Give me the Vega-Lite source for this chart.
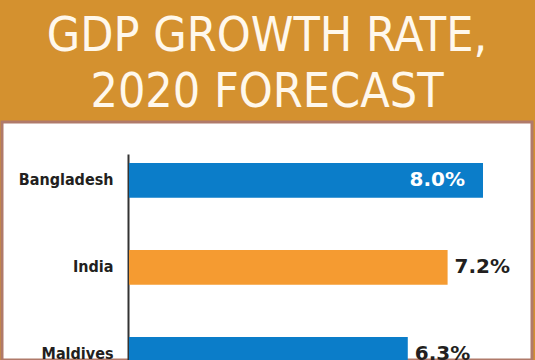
{
  "$schema": "https://vega.github.io/schema/vega-lite/v6.json",
  "autosize": {"type": "none"},
  "width": 530,
  "height": 238,
  "padding": {"left": 2, "top": 122, "right": 3, "bottom": 0},
  "background": "#D4912F",
  "title": {
    "text": ["GDP GROWTH RATE,", "2020 FORECAST"],
    "font": "DejaVu Sans Condensed, Roboto, sans-serif",
    "fontSize": 48,
    "fontWeight": "normal",
    "color": "#FFF8EC",
    "lineHeight": 56,
    "anchor": "middle",
    "frame": "group",
    "offset": 5
  },
  "config": {
    "view": {"fill": "white", "stroke": "#B07A6A", "strokeWidth": 3}
  },
  "data": {
    "values": [
      {"country": "Bangladesh", "growth": 8.0, "label": "8.0%"},
      {"country": "India", "growth": 7.2, "label": "7.2%"},
      {"country": "Maldives", "growth": 6.3, "label": "6.3%"}
    ]
  },
  "encoding": {
    "y": {
      "field": "country",
      "type": "nominal",
      "sort": null,
      "scale": {"range": [32, 258.8], "paddingInner": 0.6, "paddingOuter": 0.103},
      "axis": {
        "title": null,
        "offset": -126,
        "ticks": false,
        "domainColor": "#333333",
        "domainWidth": 2,
        "labelFont": "DejaVu Sans Condensed, Roboto, sans-serif",
        "labelFontWeight": "bold",
        "labelFontSize": 16,
        "labelColor": "#231F20",
        "labelPadding": 15
      }
    },
    "x": {
      "field": "growth",
      "type": "quantitative",
      "scale": {"domain": [0, 9], "range": [127, 525.25], "nice": false},
      "axis": null
    }
  },
  "layer": [
    {
      "mark": {"type": "bar", "clip": true},
      "encoding": {
        "color": {
          "field": "country",
          "type": "nominal",
          "scale": {"domain": ["Bangladesh", "India", "Maldives"], "range": ["#0B7DC9", "#F59B31", "#0B7DC9"]},
          "legend": null
        }
      }
    },
    {
      "transform": [{"filter": "datum.growth >= 8"}],
      "mark": {"type": "text", "align": "right", "dx": -18, "font": "DejaVu Sans", "fontWeight": "bold", "fontSize": 20, "color": "white"},
      "encoding": {"text": {"field": "label"}}
    },
    {
      "transform": [{"filter": "datum.growth < 8"}],
      "mark": {"type": "text", "align": "left", "dx": 7, "font": "DejaVu Sans", "fontWeight": "bold", "fontSize": 20, "color": "#231F20"},
      "encoding": {"text": {"field": "label"}}
    }
  ]
}
